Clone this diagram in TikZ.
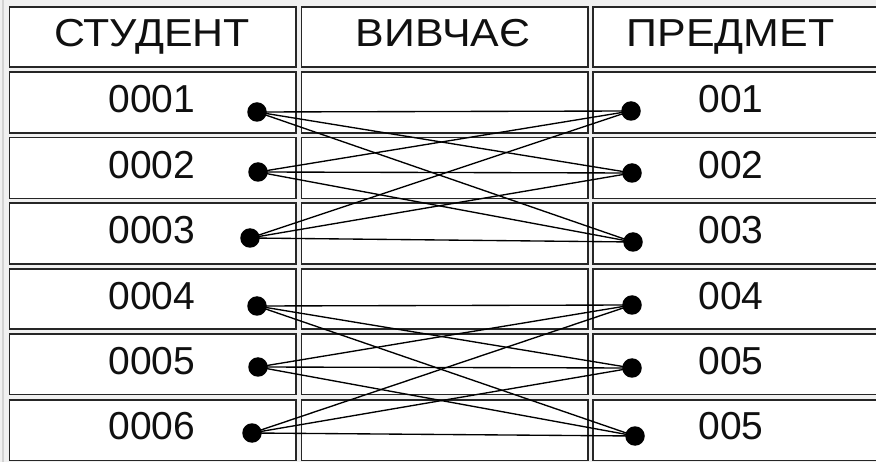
\documentclass[tikz,border=0pt]{standalone}
\usepackage{fontspec}
\setmainfont{Liberation Sans}
\definecolor{bg}{HTML}{F0F0F0}
\definecolor{framec}{HTML}{262626}
\definecolor{txt}{HTML}{101010}
\newcommand{\hdrtext}[1]{\scalebox{1.1}[1]{#1}}
\begin{document}
\begin{tikzpicture}[x=1pt,y=-1pt,
 cellbox/.style={draw=framec,fill=white,line width=1.8pt},
 lbl/.style={anchor=base,inner sep=0pt,text=txt,font=\fontsize{39}{41}\selectfont},
 dotnode/.style={circle,fill=black,draw=none,inner sep=0pt,minimum size=19.5pt},
 link/.style={line width=1.35pt,draw=black}]
\useasboundingbox (0,0) rectangle (876,462);
\clip (0,0) rectangle (876,462);
\fill[bg] (0,0) rectangle (876,462);
\draw[gray!35,line width=1.5pt] (3,0) -- (3,462);
% cells
\foreach \t/\b in {7/67, 72/133, 137.6/198.6, 203.2/263.7, 268.8/329, 334.4/394.5, 400/460.5} {
  \draw[cellbox] (9.5,\t) rectangle (296,\b);
  \draw[cellbox] (301.5,\t) rectangle (588,\b);
  \draw[cellbox] (593,\t) rectangle (895,\b);
}
% headers
\node[lbl] (h1) at (152,47) {\hdrtext{СТУДЕНТ}};
\node[lbl] (h2) at (443,47) {\hdrtext{ВИВЧАЄ}};
\node[lbl] (h3) at (730.5,47) {\hdrtext{ПРЕДМЕТ}};
% students
\node[lbl] (s1) at (152,113) {0001};
\node[lbl] (s2) at (152,178.5) {0002};
\node[lbl] (s3) at (152,244) {0003};
\node[lbl] (s4) at (152,310) {0004};
\node[lbl] (s5) at (152,375) {0005};
\node[lbl] (s6) at (152,439) {0006};
% subjects
\node[lbl] (p1) at (731,113) {001};
\node[lbl] (p2) at (731,178.5) {002};
\node[lbl] (p3) at (731,244) {003};
\node[lbl] (p4) at (731,310) {004};
\node[lbl] (p5) at (731,375) {005};
\node[lbl] (p6) at (731,439) {005};
% dots
\node[dotnode] (L1) at (257,112) {};
\node[dotnode] (L2) at (258,172) {};
\node[dotnode] (L3) at (250,238) {};
\node[dotnode] (L4) at (257,306) {};
\node[dotnode] (L5) at (258,367) {};
\node[dotnode] (L6) at (252,433) {};
\node[dotnode] (R1) at (631,111) {};
\node[dotnode] (R2) at (632,173) {};
\node[dotnode] (R3) at (633,242) {};
\node[dotnode] (R4) at (632,305) {};
\node[dotnode] (R5) at (632,368) {};
\node[dotnode] (R6) at (635,436) {};
% links
\foreach \a in {1,2,3} {
  \foreach \b in {1,2,3} {
    \draw[link] (L\a.center) -- (R\b.center);
  }
}
\foreach \a in {4,5,6} {
  \foreach \b in {4,5,6} {
    \draw[link] (L\a.center) -- (R\b.center);
  }
}
\end{tikzpicture}
\end{document}
